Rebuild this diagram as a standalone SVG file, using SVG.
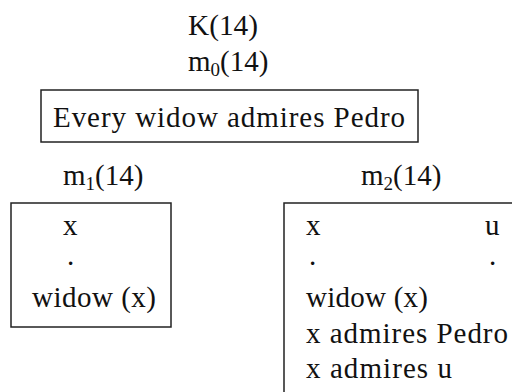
<svg xmlns="http://www.w3.org/2000/svg" width="512" height="392" viewBox="0 0 512 392">
<defs>
<rect id="none" width="0" height="0"/>
</defs>
<rect width="512" height="392" fill="#fff"/>
<g id="root">
<text x="188" y="35" font-family="Liberation Serif" font-size="29" fill="#111" textLength="70" lengthAdjust="spacingAndGlyphs">K(14)</text>
<text x="188" y="71" font-family="Liberation Serif" font-size="29" fill="#111">m<tspan font-size="19" dy="5">0</tspan><tspan dy="-5">(14)</tspan></text>
<rect x="41" y="90" width="377" height="52" fill="#fff" stroke="#222" stroke-width="1.5"/>
<text x="53" y="127" font-family="Liberation Serif" font-size="29" fill="#111" textLength="352" lengthAdjust="spacing">Every widow admires Pedro</text>
</g>
<g id="m1">
<text x="63" y="185" font-family="Liberation Serif" font-size="29" fill="#111">m<tspan font-size="19" dy="5">1</tspan><tspan dy="-5">(14)</tspan></text>
<rect x="11" y="203" width="160" height="124" fill="#fff" stroke="#222" stroke-width="1.5"/>
<text x="63" y="235" font-family="Liberation Serif" font-size="29" fill="#111">x</text>
<text x="67" y="265" font-family="Liberation Serif" font-size="29" fill="#111">.</text>
<text x="32" y="307" font-family="Liberation Serif" font-size="29" fill="#111" textLength="124" lengthAdjust="spacing">widow (x)</text>
</g>
<g id="m2">
<text x="361" y="185" font-family="Liberation Serif" font-size="29" fill="#111">m<tspan font-size="19" dy="5">2</tspan><tspan dy="-5">(14)</tspan></text>
<rect x="284" y="203" width="300" height="300" fill="#fff" stroke="#222" stroke-width="1.5"/>
<text x="306" y="235" font-family="Liberation Serif" font-size="29" fill="#111">x</text>
<text x="485" y="235" font-family="Liberation Serif" font-size="29" fill="#111">u</text>
<text x="309" y="265" font-family="Liberation Serif" font-size="29" fill="#111">.</text>
<text x="489" y="265" font-family="Liberation Serif" font-size="29" fill="#111">.</text>
<text x="306" y="307" font-family="Liberation Serif" font-size="29" fill="#111" textLength="122" lengthAdjust="spacing">widow (x)</text>
<text x="306" y="343" font-family="Liberation Serif" font-size="29" fill="#111" textLength="202" lengthAdjust="spacing">x admires Pedro</text>
<text x="306" y="378" font-family="Liberation Serif" font-size="29" fill="#111" textLength="146" lengthAdjust="spacing">x admires u</text>
</g>
<g id="connectors"></g>
</svg>
